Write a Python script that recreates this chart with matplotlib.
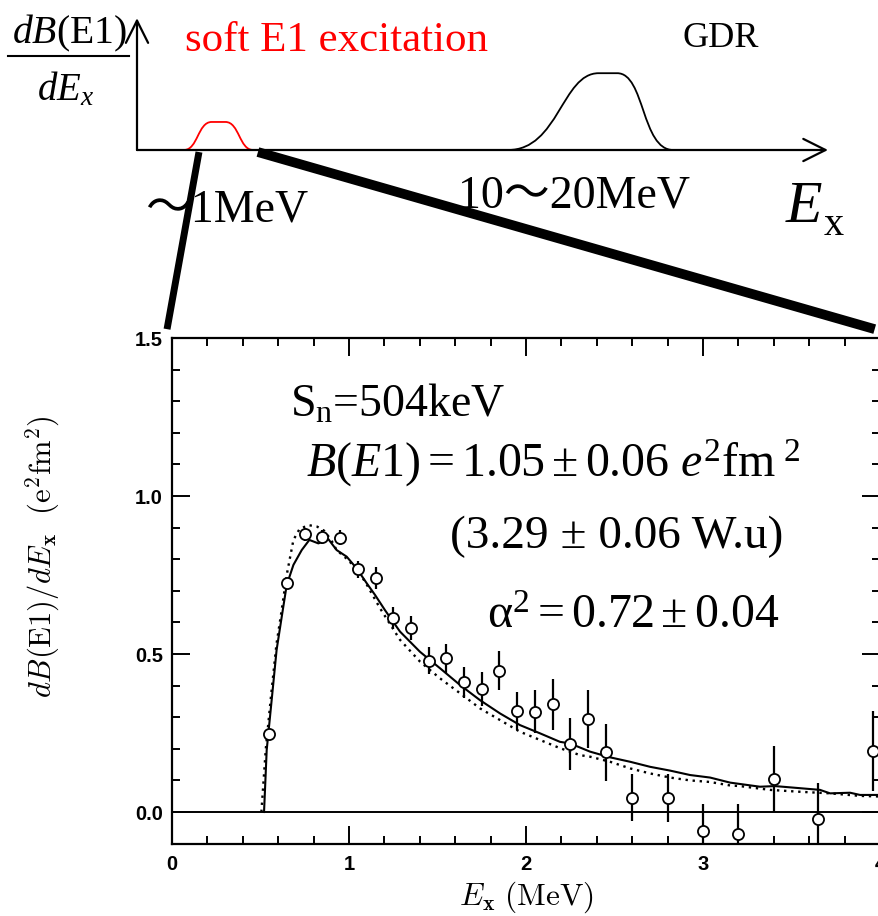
import matplotlib
matplotlib.use("Agg")
import matplotlib.pyplot as plt
from matplotlib.path import Path
from matplotlib.patches import PathPatch, ConnectionPatch
from matplotlib.lines import Line2D
from matplotlib.ticker import MultipleLocator, FormatStrFormatter

plt.rcParams["mathtext.fontset"] = "custom"
plt.rcParams["mathtext.rm"] = "Liberation Serif"
plt.rcParams["mathtext.it"] = "Liberation Serif:italic"
plt.rcParams["mathtext.bf"] = "Liberation Serif:bold"

# ---- measured dB(E1)/dEx (e^2 fm^2 / MeV) ----
ex_data = [0.55, 0.65, 0.75, 0.85, 0.95, 1.05, 1.15, 1.25, 1.35, 1.45, 1.55,
           1.65, 1.75, 1.85, 1.95, 2.05, 2.15, 2.25, 2.35, 2.45, 2.60, 2.80,
           3.00, 3.20, 3.40, 3.65, 3.96]
db_data = [0.246, 0.726, 0.879, 0.871, 0.868, 0.768, 0.741, 0.614, 0.581,
           0.479, 0.486, 0.410, 0.389, 0.447, 0.320, 0.317, 0.341, 0.216,
           0.294, 0.189, 0.045, 0.043, -0.060, -0.070, 0.104, -0.023, 0.193]
db_err = [0.010, 0.015, 0.020, 0.022, 0.024, 0.027, 0.034, 0.034, 0.038,
          0.042, 0.047, 0.050, 0.053, 0.061, 0.061, 0.068, 0.080, 0.083,
          0.092, 0.091, 0.074, 0.076, 0.085, 0.095, 0.105, 0.114, 0.127]

# ---- calculations ----
ex_solid = [0.520, 0.535, 0.563, 0.591, 0.620, 0.648, 0.686, 0.733, 0.776,
            0.827, 0.884, 0.930, 0.987, 1.043, 1.100, 1.147, 1.203, 1.288,
            1.401, 1.514, 1.627, 1.740, 1.853, 1.966, 2.079, 2.192, 2.249,
            2.362, 2.475, 2.588, 2.701, 2.814, 2.927, 3.040, 3.153, 3.322,
            3.407, 3.492, 3.661, 3.718, 3.831, 3.887, 4.000]
db_solid = [0.000, 0.196, 0.354, 0.513, 0.618, 0.718, 0.782, 0.829, 0.861,
            0.850, 0.863, 0.829, 0.808, 0.771, 0.724, 0.687, 0.639, 0.571,
            0.507, 0.455, 0.402, 0.354, 0.312, 0.275, 0.249, 0.222, 0.217,
            0.191, 0.173, 0.159, 0.143, 0.131, 0.117, 0.109, 0.093, 0.080,
            0.082, 0.078, 0.070, 0.059, 0.061, 0.054, 0.054]
ex_dotted = [0.505, 0.530, 0.560, 0.590, 0.620, 0.648, 0.686, 0.720, 0.770,
             0.820, 0.860, 0.900, 0.930, 0.990, 1.050, 1.100, 1.175, 1.288,
             1.401, 1.514, 1.627, 1.740, 1.853, 1.966, 2.079, 2.192, 2.305,
             2.362, 2.475, 2.588, 2.701, 2.814, 2.927, 3.040, 3.153, 3.209,
             3.379, 3.548, 3.718, 3.887, 4.000]
db_dotted = [0.000, 0.200, 0.370, 0.530, 0.640, 0.750, 0.861, 0.895, 0.908,
             0.903, 0.890, 0.860, 0.829, 0.800, 0.765, 0.720, 0.645, 0.545,
             0.476, 0.423, 0.376, 0.328, 0.291, 0.254, 0.228, 0.202, 0.180,
             0.175, 0.159, 0.138, 0.122, 0.109, 0.100, 0.095, 0.084, 0.082,
             0.070, 0.064, 0.059, 0.051, 0.049]

# ---- schematic strength sketch (arbitrary units) ----
soft_bump = [(6.8, 0.0), (8.8, 0.0), (8.8, 0.219), (10.8, 0.219), (12.8, 0.219),
             (14.8, 0.219), (14.8, 0.0), (16.8, 0.0)]
gdr_bump = [(53.7, 0.0), (61.0, 0.0), (61.5, 0.60), (66.8, 0.60), (69.5, 0.60),
            (73.5, 0.60), (73.0, 0.0), (77.6, 0.0)]
bump_codes = [Path.MOVETO, Path.CURVE4, Path.CURVE4, Path.CURVE4, Path.LINETO,
              Path.CURVE4, Path.CURVE4, Path.CURVE4]

W, H = 879, 916
fig = plt.figure(figsize=(W / 100, H / 100), dpi=100)


def fx(px):
    return px / W


def fy(py):
    return 1 - py / H


serif = "Liberation Serif"

# ================= main panel =================
ax = fig.add_axes([fx(172), fy(843.6), (880 - 172) / W, (843.6 - 338) / H])
ax.set_xlim(0, 4)
ax.set_ylim(-0.1, 1.5)
ax.axhline(0, color="k", lw=1.4, zorder=1)
ax.plot(ex_solid, db_solid, color="k", lw=1.5, zorder=2)
ax.plot(ex_dotted, db_dotted, color="k", lw=1.7, ls=(0, (1.0, 2.0)), zorder=2)
ax.errorbar(ex_data, db_data, yerr=db_err, fmt="o", mfc="white", mec="k",
            ms=8, mew=1.3, ecolor="k", elinewidth=1.6, capsize=0, zorder=3)

for s in ax.spines.values():
    s.set_linewidth(1.6)
ax.xaxis.set_major_locator(MultipleLocator(1))
ax.xaxis.set_minor_locator(MultipleLocator(0.2))
ax.yaxis.set_major_locator(MultipleLocator(0.5))
ax.yaxis.set_minor_locator(MultipleLocator(0.1))
ax.yaxis.set_major_formatter(FormatStrFormatter("%.1f"))
ax.tick_params(which="both", direction="in", top=True, right=True, width=1.4)
ax.tick_params(which="major", length=13)
ax.tick_params(which="minor", length=6)
ax.tick_params(axis="x", pad=8.5)
ax.tick_params(axis="y", pad=6.5)
for lab in ax.get_xticklabels() + ax.get_yticklabels():
    lab.set_fontfamily("Liberation Sans")
    lab.set_fontweight("bold")
    lab.set_fontsize(14.5)

ax.set_xlabel(r"$E_{\mathbf{x}}\ (\mathrm{MeV})$", fontsize=22.5,
              math_fontfamily="cm", labelpad=4)
fig.text(fx(43), fy(557),
         r"$dB(\mathrm{E1})/dE_{\mathbf{x}}\ \ (\mathrm{e}^2\mathrm{fm}^2)$",
         rotation=90, ha="center", va="center", fontsize=22,
         math_fontfamily="cm")

ax.text(0.667, 1.25, r"S$_\mathrm{n}$=504keV", family=serif, fontsize=33,
        va="baseline", ha="left")
ax.text(0.757, 1.06, r"$B(E1) = 1.05 \pm 0.06\ e^{2}\mathrm{fm}^{\ 2}$",
        family=serif, fontsize=34.5, va="baseline", ha="left")
ax.text(1.57, 0.835, "(3.29 ± 0.06 W.u)", family=serif, fontsize=34,
        va="baseline", ha="left")
ax.text(1.78, 0.582, r"$\mathrm{\alpha}^2 = 0.72 \pm 0.04$",
        family=serif, fontsize=34.5, va="baseline", ha="left")

# ================= schematic =================
axs = fig.add_axes([fx(137), fy(150), 691 / W, 128 / H])
axs.set_xlim(0, 100)
axs.set_ylim(0, 1)
axs.set_axis_off()
arrow = dict(arrowstyle="->,head_length=0.8,head_width=0.4", lw=1.6,
             color="k", shrinkA=0, shrinkB=0, mutation_scale=20)
axs.annotate("", xy=(100, 0), xytext=(0, 0), arrowprops=arrow,
             annotation_clip=False)
axs.annotate("", xy=(0, 1.03), xytext=(0, 0), arrowprops=arrow,
             annotation_clip=False)
axs.add_patch(PathPatch(Path(soft_bump, bump_codes), fill=False,
                        ec="#ff0000", lw=1.3, clip_on=False))
axs.add_patch(PathPatch(Path(gdr_bump, bump_codes), fill=False,
                        ec="k", lw=1.3, clip_on=False))

# zoom lines from the sketch down to the measured panel
for xa, xb, lw in [(8.97, -0.028, 5.0), (17.5, 3.97, 7.0)]:
    con = ConnectionPatch(xyA=(xa, -0.016), coordsA=axs.transData,
                          xyB=(xb, 1.528), coordsB=ax.transData,
                          color="k", lw=lw, capstyle="butt", clip_on=False)
    fig.add_artist(con)

# axis label of the sketch: dB(E1)/dEx as a stacked fraction
fig.text(fx(69), fy(43), r"$dB$(E1)", family=serif, fontsize=28.5,
         ha="center", va="baseline")
fig.add_artist(Line2D([fx(8), fx(129)], [fy(56), fy(56)], color="k", lw=1.5))
fig.text(fx(66), fy(100), r"$dE_{x}$", family=serif, fontsize=28,
         ha="center", va="baseline")

fig.text(fx(185), fy(51), "soft E1 excitation", family=serif, fontsize=31,
         color="#ff0000", va="baseline")
fig.text(fx(683), fy(47), "GDR", family=serif, fontsize=26, va="baseline")
cjk = [serif, "Noto Sans CJK JP"]
fig.text(fx(145), fy(222), "〜1MeV", family=cjk, fontsize=33, va="baseline")
fig.text(fx(458), fy(208), "10〜20MeV", family=cjk, fontsize=33,
         va="baseline")
fig.text(fx(786), fy(222), "E", family=serif, style="italic", fontsize=43,
         va="baseline")
fig.text(fx(824), fy(235), "x", family=serif, fontsize=29, va="baseline")

fig.savefig("out.png", dpi=100)
